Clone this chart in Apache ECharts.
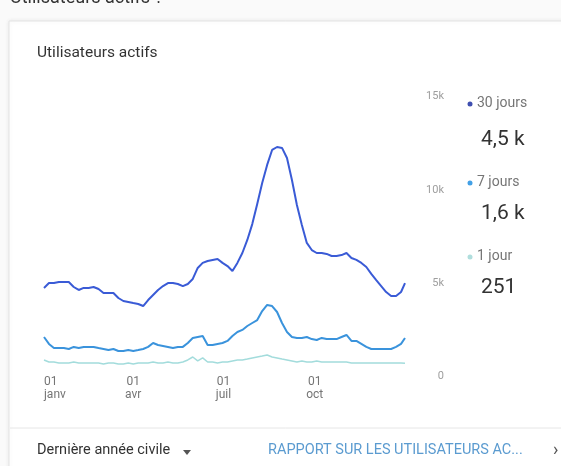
<!DOCTYPE html>
<html>
<head>
<meta charset="utf-8">
<script src="https://cdn.jsdelivr.net/npm/echarts@6/dist/echarts.min.js"></script>
<style>
  html, body { margin: 0; padding: 0; background: #fafafa; }
  #chart { width: 561px; height: 466px; }
</style>
</head>
<body>
<div id="chart"></div>
<script>
// jours depuis le 1er janvier (échantillon tous les 5 jours)
var sampleDays = [0, 5, 10, 15, 20, 25, 30, 35, 40, 45, 50, 55, 60, 65, 70, 75, 80, 85, 90, 95,
  100, 105, 110, 115, 120, 125, 130, 135, 140, 145, 150, 155, 160, 165, 170, 175, 180, 185, 190, 195,
  200, 205, 210, 215, 220, 225, 230, 235, 240, 245, 250, 255, 260, 265, 270, 275, 280, 285, 290, 295,
  300, 305, 310, 315, 320, 325, 330, 335, 340, 345, 350, 355, 360, 364];

var users30 = [4290, 4550, 4550, 4610, 4610, 4610, 4340, 4180, 4290, 4290, 4340, 4230, 4020, 4020, 4020, 3750, 3590, 3540, 3480, 3430,
  3320, 3640, 3910, 4180, 4390, 4550, 4550, 4500, 4390, 4500, 4770, 5360, 5630, 5730, 5790, 5840, 5630, 5460, 5200, 5630,
  6160, 6860, 7710, 8790, 9910, 10880, 11680, 11840, 11790, 11250, 10070, 8730, 7660, 6700, 6320, 6160, 6160, 6110, 6000, 6000,
  6050, 6160, 5890, 5790, 5630, 5410, 5040, 4710, 4390, 4070, 3860, 3860, 4070, 4550];

var users7 = [1660, 1290, 1070, 1070, 1070, 1020, 1130, 1070, 1130, 1130, 1130, 1070, 1020, 960, 1020, 910, 910, 960, 910, 960,
  1020, 1130, 1340, 1230, 1180, 1130, 1070, 1130, 1130, 1340, 1610, 1660, 1710, 1230, 1230, 1290, 1340, 1450, 1710, 1930,
  2040, 2250, 2410, 2570, 3050, 3380, 3320, 3000, 2410, 1930, 1660, 1610, 1610, 1660, 1550, 1500, 1610, 1550, 1550, 1550,
  1660, 1770, 1450, 1450, 1290, 1130, 1020, 1020, 1020, 1020, 1020, 1130, 1290, 1610];

var users1 = [430, 320, 320, 270, 270, 270, 320, 270, 270, 270, 270, 270, 210, 270, 270, 210, 210, 270, 210, 270,
  270, 270, 320, 270, 270, 320, 270, 270, 320, 430, 590, 380, 540, 320, 320, 270, 320, 320, 380, 430,
  430, 480, 540, 590, 640, 700, 590, 540, 480, 430, 380, 320, 380, 320, 320, 380, 320, 320, 320, 320,
  320, 320, 270, 270, 270, 270, 270, 270, 270, 270, 270, 270, 270, 250];

var seriesNames = ["30 jours", "7 jours", "1 jour"];
var latestLabels = ["4,5 k", "1,6 k", "251"];
var colors = ["#3a5bd6", "#3a93dc", "#a3dcdc"];
var dotColors = ["#3f4fb0", "#42a0e6", "#b0dedd"];

// 1er janv, 1er avr, 1er juil, 1er oct (jour de l'année)
var tickDays = [0, 90, 181, 273];
var tickLabels = ["01\njanv", "01\navr", "01\njuil", "01\noct"];

function pairs(values) {
  return values.map(function (v, i) { return [sampleDays[i], v]; });
}

var font = "Roboto, 'Noto Sans', sans-serif";
var chart = echarts.init(document.getElementById("chart"));

var legendGraphics = [];
var legendTops = [96, 175, 249];
var valueTops = [129, 203, 277];
seriesNames.forEach(function (name, i) {
  legendGraphics.push({
    type: "circle", shape: { cx: 470, cy: legendTops[i] + 8, r: 2.5 },
    style: { fill: dotColors[i] }
  });
  legendGraphics.push({
    type: "text", left: 477, top: legendTops[i],
    style: { text: name, font: "14px " + font, fill: "#757575" }
  });
  legendGraphics.push({
    type: "text", left: 481, top: valueTops[i],
    style: { text: latestLabels[i], font: "21px " + font, fill: "#333333" }
  });
});

var option = {
  backgroundColor: "#fafafa",
  animation: false,
  grid: { left: 44, right: 156, top: 88, bottom: 98 },
  xAxis: {
    type: "value",
    min: 0,
    max: 364,
    axisLine: { show: false },
    axisTick: { show: false },
    splitLine: { show: false },
    axisLabel: {
      customValues: tickDays,
      alignMinLabel: "left",
      margin: 7,
      color: "#757575",
      fontFamily: font,
      fontSize: 12,
      lineHeight: 13,
      formatter: function (v) {
        var i = tickDays.indexOf(v);
        return i < 0 ? "" : tickLabels[i];
      }
    }
  },
  yAxis: {
    type: "value",
    position: "right",
    min: 0,
    max: 15000,
    interval: 5000,
    axisLine: { show: false },
    axisTick: { show: false },
    splitLine: { show: false },
    axisLabel: {
      align: "right",
      verticalAlign: "top",
      padding: [3, 0, 0, 0],
      margin: 39,
      color: "#9e9e9e",
      fontFamily: font,
      fontSize: 11,
      formatter: function (v) { return v === 0 ? "0" : (v / 1000) + "k"; }
    }
  },
  series: [
    { name: seriesNames[2], type: "line", data: pairs(users1), showSymbol: false,
      lineStyle: { color: colors[2], width: 1.5 }, z: 1 },
    { name: seriesNames[1], type: "line", data: pairs(users7), showSymbol: false,
      lineStyle: { color: colors[1], width: 2 }, z: 2 },
    { name: seriesNames[0], type: "line", data: pairs(users30), showSymbol: false,
      lineStyle: { color: colors[0], width: 2 }, z: 3 }
  ],
  graphic: [
    // en-tête coupé en haut
    { type: "text", left: 10, top: -11, z: 100, style: { text: "Utilisateurs actifs ?", font: "18px " + font, fill: "#333333" } },
    // carte
    { type: "rect", shape: { x: 9, y: 21, width: 560, height: 460 },
      style: { fill: "#ffffff", stroke: "#e4e4e4", lineWidth: 1, shadowBlur: 4, shadowColor: "rgba(0,0,0,0.08)" }, z: -10 },
    { type: "text", left: 37, top: 45, style: { text: "Utilisateurs actifs", font: "15.5px " + font, fill: "#333333" } },
    { type: "line", shape: { x1: 10, y1: 428, x2: 561, y2: 428 }, style: { stroke: "#e6e6e6", lineWidth: 1 } },
    { type: "text", left: 37, top: 443, style: { text: "Dernière année civile", font: "14.5px " + font, fill: "#333333" } },
    { type: "polygon", shape: { points: [[183, 450], [191, 450], [187, 455]] }, style: { fill: "#555555" } },
    { type: "text", left: 268, top: 443, style: { text: "RAPPORT SUR LES UTILISATEURS AC...", font: "14.5px " + font, fill: "#5b9bd0" } },
    { type: "text", left: 553, top: 441, style: { text: "›", font: "18px " + font, fill: "#555555" } }
  ].concat(legendGraphics)
};

chart.setOption(option);
</script>
</body>
</html>
